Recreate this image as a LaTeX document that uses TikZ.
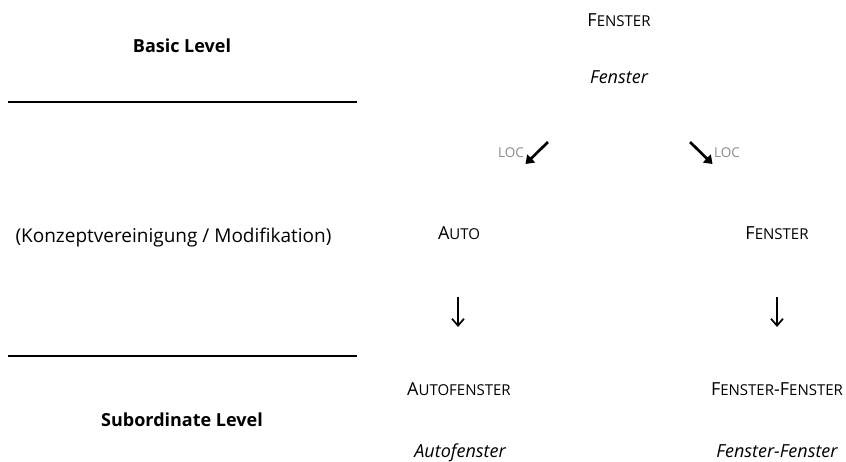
\documentclass[tikz,border=0pt]{standalone}
\usepackage{fontspec}
\setmainfont{Open Sans}
\usetikzlibrary{arrows.meta}
% capital initial followed by reduced capitals (small-caps look)
\newcommand\sckword[2]{#1{\fontsize{15}{18}\selectfont #2}}
\tikzset{
  lbl/.style={inner sep=0pt, anchor=base, font=\fontsize{18}{22}\selectfont},
  lvl/.style={lbl, font=\fontsize{18}{22}\selectfont\bfseries},
  word/.style={lbl, font=\fontsize{18}{22}\selectfont\itshape},
  rel/.style={lbl, text=black!45, font=\fontsize{13.5}{16}\selectfont},
  rulebar/.style={line width=1.5pt},
  derive/.style={line width=2.7pt, -{Triangle[length=8pt,width=11pt]}},
  downarr/.style={line width=1.5pt, -{Straight Barb[length=7pt,width=12pt,line width=1.7pt]}},
}
\begin{document}
\begin{tikzpicture}[x=1pt,y=-1pt]
\useasboundingbox (0,0) rectangle (846,461);

% left column: level labels and separating rules
\node[lvl] (basic) at (182,52) {Basic Level};
\node[lbl, font=\fontsize{19}{23}\selectfont] (modif) at (173.5,242) {(Konzeptvereinigung / Modifikation)};
\node[lvl] (subord) at (182,426) {Subordinate Level};
\coordinate (r1a) at (8,102);  \coordinate (r1b) at (357,102);
\coordinate (r2a) at (8,356);  \coordinate (r2b) at (357,356);
\draw[rulebar] (r1a) -- (r1b);
\draw[rulebar] (r2a) -- (r2b);

% head concept
\node[lbl] (head) at (619,26) {\sckword{F}{ENSTER}};
\node[word] (headw) at (619,83) {Fenster};

% locative relations
\node[rel, anchor=base east] (locL) at (524,157) {LOC};
\node[rel, anchor=base west] (locR) at (714,157) {LOC};
\coordinate (dLs) at (548,142); \coordinate (dLe) at (525.5,164);
\coordinate (dRs) at (690,142); \coordinate (dRe) at (712.5,164);
\draw[derive] (dLs) -- (dLe);
\draw[derive] (dRs) -- (dRe);

% modifier concepts
\node[lbl] (auto) at (459,239) {\sckword{A}{UTO}};
\node[lbl] (fen) at (777,239) {\sckword{F}{ENSTER}};

% composition arrows
\coordinate (aLs) at (458,297); \coordinate (aLe) at (458,327);
\coordinate (aRs) at (777,297); \coordinate (aRe) at (777,327);
\draw[downarr] (aLs) -- (aLe);
\draw[downarr] (aRs) -- (aRe);

% compounds
\node[lbl] (autofen) at (459,395) {\sckword{A}{UTOFENSTER}};
\node[lbl] (fenfen) at (777,395) {\sckword{F}{ENSTER}-\sckword{F}{ENSTER}};
\node[word] (autofenw) at (460,457) {Autofenster};
\node[word] (fenfenw) at (777,457) {Fenster-Fenster};
\end{tikzpicture}
\end{document}
